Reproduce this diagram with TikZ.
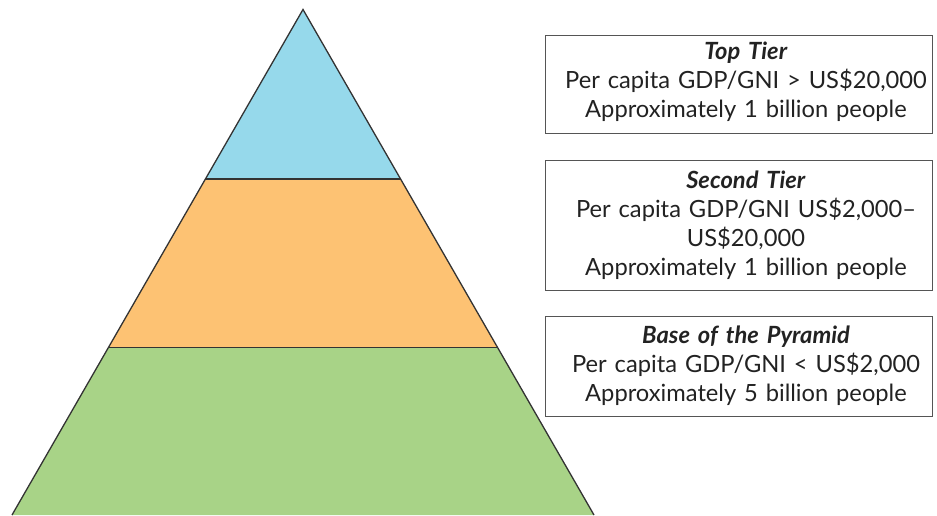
\documentclass[tikz,border=0pt]{standalone}
\usepackage{fontspec}
\setmainfont{Lato}
\usetikzlibrary{calc}
\definecolor{tierblue}{HTML}{96D9EB}
\definecolor{tierorange}{HTML}{FDC273}
\definecolor{tiergreen}{HTML}{A8D387}
\definecolor{edgegray}{HTML}{333333}
\definecolor{boxgray}{HTML}{555555}
\definecolor{textgray}{HTML}{222222}
\tikzset{
  tier/.style={draw=edgegray, line width=1.3pt, line join=miter},
  infobox/.style={draw=boxgray, line width=0.9pt, rectangle, minimum width=387pt, inner sep=0pt},
  boxtext/.style={text width=385pt, align=center, inner sep=0pt, text=textgray,
    font=\fontsize{23.7}{29}\selectfont},
}
\begin{document}
\begin{tikzpicture}[x=1pt,y=-1pt]
\useasboundingbox (0,0) rectangle (937,515);
\coordinate (apex) at (303,9.5);
\coordinate (bl) at (12,515);
\coordinate (br) at (594,515);
\coordinate (l1) at ($(apex)!0.3353!(bl)$);
\coordinate (r1) at ($(apex)!0.3353!(br)$);
\coordinate (l2) at ($(apex)!0.6690!(bl)$);
\coordinate (r2) at ($(apex)!0.6690!(br)$);
\fill[tiergreen] (l2) -- (r2) -- (br) -- (bl) -- cycle;
\fill[tierorange] (l1) -- (r1) -- (r2) -- (l2) -- cycle;
\fill[tierblue] (apex) -- (r1) -- (l1) -- cycle;
\draw[tier] (l1) -- (r1);
\draw[tier] (l2) -- (r2);
\draw[tier] (bl) -- (apex) -- (br);
\node[infobox, minimum height=98pt] (top) at (738.5,84) {};
\node[boxtext] (toptext) at (746,81.5)
  {\textbf{\textit{Top Tier}}\\Per capita GDP/GNI > US\$20,000\\Approximately 1 billion people};
\node[infobox, minimum height=130pt] (second) at (738.5,225) {};
\node[boxtext] (secondtext) at (746,225)
  {\textbf{\textit{Second Tier}}\\Per capita GDP/GNI US\$2,000–\\US\$20,000\\Approximately 1 billion people};
\node[infobox, minimum height=100pt] (base) at (738.5,366) {};
\node[boxtext] (basetext) at (746,366)
  {\textbf{\textit{Base of the Pyramid}}\\Per capita GDP/GNI < US\$2,000\\Approximately 5 billion people};
\end{tikzpicture}
\end{document}
